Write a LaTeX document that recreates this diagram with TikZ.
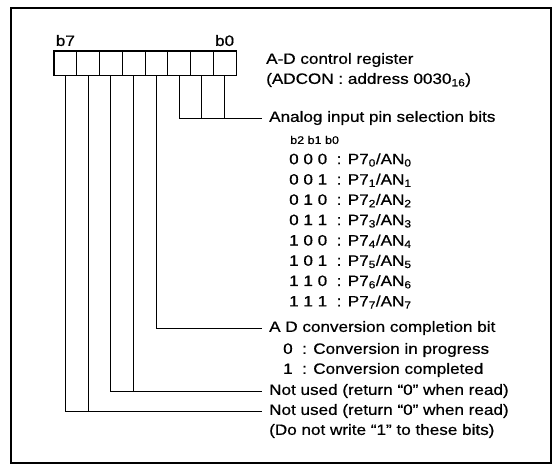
\documentclass[tikz,border=0pt]{standalone}
\usepackage{fontspec}
\setmainfont{Liberation Sans}[FakeStretch=1.14, FakeBold=0.6]
\usepackage{tikz}

\begin{document}
\begin{tikzpicture}[x=1pt, y=-1pt,
    every node/.style={font=\fontsize{15}{18}\selectfont},
    cellbox/.style={draw, minimum width=22.75pt, minimum height=24pt, inner sep=0pt, line width=0.8pt},
    lbl/.style={anchor=west, inner xsep=7pt, inner ysep=0pt},
    tbl/.style={anchor=west, inner sep=0pt},
    wire/.style={line width=0.8pt}]
  \useasboundingbox (0,0) rectangle (555,468);
  % frame
  \draw[line width=2.5pt] (11,8) rectangle (551,463);

  % register cells b7 ... b0
  \foreach \i in {0,...,7}
    \node[cellbox] (c\i) at ({236-22.75*(\i+0.5)}, 63) {};
  \draw[line width=1.6pt] (c7.north west) rectangle (c0.south east);
  \node[above=1pt] (hb) at (c7.north) {b7};
  \node[above=1pt] (lb) at (c0.north) {b0};

  % register name
  \node[tbl] (reg) at (266,60) {A-D control register};
  \node[tbl] (adcon) at (266,80) {(ADCON : address 0030\textsubscript{16})};

  % analog input pin selection
  \node[lbl] (ana) at (262,118) {Analog input pin selection bits};
  \node[tbl, font=\fontsize{11}{13}\selectfont] (bb) at (290,140) {b2 b1 b0};
  \foreach \bits [count=\n from 0] in {0 0 0, 0 0 1, 0 1 0, 0 1 1, 1 0 0, 1 0 1, 1 1 0, 1 1 1}
    \node[tbl] (r\n) at (289, {160+20.3*\n}) {\bits\ \ : P7\textsubscript{\n}/AN\textsubscript{\n}};

  % conversion bit and unused bits
  \node[lbl] (adc) at (262,328) {A D conversion completion bit};
  \node[tbl] (s0) at (283,350) {0 \ : Conversion in progress};
  \node[tbl] (s1) at (283,370) {1 \ : Conversion completed};
  \node[lbl] (nu1) at (262,391) {Not used (return ``0'' when read)};
  \node[lbl] (nu2) at (262,411) {Not used (return ``0'' when read)};
  \node[tbl] (nw) at (269,431) {(Do not write ``1'' to these bits)};

  % connectors
  \draw[wire] (c2.south) |- (ana.west);
  \draw[wire] (c1.south) -- (c1.south |- ana.west);
  \draw[wire] (c0.south) -- (c0.south |- ana.west);
  \draw[wire] (c3.south) |- (adc.west);
  \draw[wire] (c5.south) |- (nu1.west);
  \draw[wire] (c4.south) -- (c4.south |- nu1.west);
  \draw[wire] (c7.south) |- (nu2.west);
  \draw[wire] (c6.south) -- (c6.south |- nu2.west);
\end{tikzpicture}
\end{document}
